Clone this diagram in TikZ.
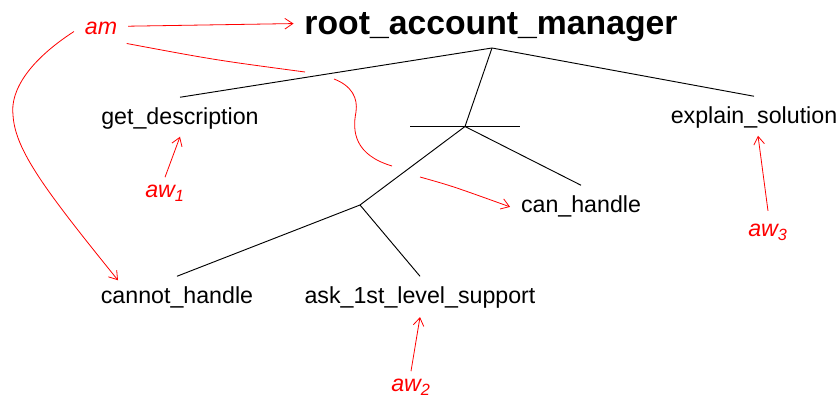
\documentclass[tikz,border=0pt]{standalone}
\usepackage{fontspec}
\setmainfont{Liberation Sans}
\usetikzlibrary{arrows.meta,calc}

\tikzset{
  treenode/.style={inner xsep=8pt, inner ysep=8pt, font=\fontsize{17.4}{20}\selectfont},
  rootnode/.style={inner xsep=8pt, inner ysep=3pt, font=\fontsize{25.3}{30}\selectfont\bfseries},
  agent/.style={inner xsep=8pt, inner ysep=6pt, text=red, font=\fontsize{17.4}{20}\selectfont\itshape},
  branch/.style={draw=black, line width=0.7pt},
  link/.style={draw=red, line width=0.6pt},
  linkarrow/.style={link, -{Straight Barb[length=6pt,width=8pt]}}
}

\begin{document}
\begin{tikzpicture}[x=0.75pt, y=-0.75pt]
\useasboundingbox (0,0) rectangle (840,399);

% task tree labels
\node[rootnode, anchor=base] (root) at (491,35) {root\_account\_manager};
\node[treenode, anchor=base] (getd) at (180,125) {get\_description};
\node[treenode, anchor=base] (expl) at (754,124) {explain\_solution};
\node[treenode, anchor=base] (canh) at (581,213) {can\_handle};
\node[treenode, anchor=base] (cannot) at (177,304) {cannot\_handle};
\node[treenode, anchor=base] (ask) at (420,304) {ask\_1st\_level\_support};

% agents
\node[agent, anchor=base] (am) at (101,35) {am};
\node[agent, anchor=base] (aw1) at (165,198) {aw\textsubscript{1}};
\node[agent, anchor=base] (aw2) at (411,392) {aw\textsubscript{2}};
\node[agent, anchor=base] (aw3) at (768,237) {aw\textsubscript{3}};

% branching points
\coordinate (j1) at (492,48);
\coordinate (j2) at (465,126.5);
\coordinate (j3) at (360,205);
\coordinate (barL) at (410,126.5);
\coordinate (barR) at (520,126.5);

% tree branches
\draw[branch] (getd.north) -- (j1) -- (expl.north);
\draw[branch] (j1) -- (j2);
\draw[branch] (barL) -- (barR);
\draw[branch] (j2) -- (canh.north);
\draw[branch] (j2) -- (j3);
\draw[branch] (j3) -- (cannot.north);
\draw[branch] (j3) -- (ask.north);

% am to the root
\draw[linkarrow] ([yshift=2pt]am.east) -- ([yshift=3pt]root.west);

% am to cannot_handle
\coordinate (bendA) at (13,115);
\draw[linkarrow] ([yshift=-2pt]am.west) .. controls (30,60) and (10,90) .. (bendA)
  .. controls (15,150) and (45,190) .. ($(cannot.north)+(-59,4)$);

% am to can_handle, broken where it passes the branches
\coordinate (gapA1) at (305,72);
\coordinate (gapA2) at (334,79);
\coordinate (bendB) at (356,112);
\coordinate (gapB1) at (392,166);
\coordinate (gapB2) at (420,177);
\draw[link] ([xshift=-1pt]am.south east) .. controls (215,60) .. (gapA1);
\draw[link] (gapA2) .. controls (352,86) and (358,98) .. (bendB)
  .. controls (352,132) and (355,155) .. (gapB1);
\draw[linkarrow] (gapB2) .. controls (452,186) .. (canh.west);

% workers to their tasks
\draw[linkarrow] (aw1.north) -- ([yshift=3pt]getd.south);
\draw[linkarrow] (aw2.north) -- ([yshift=2pt]ask.south);
\draw[linkarrow] ([yshift=4pt]aw3.north) -- ([xshift=3pt,yshift=3pt]expl.south);
\end{tikzpicture}
\end{document}
